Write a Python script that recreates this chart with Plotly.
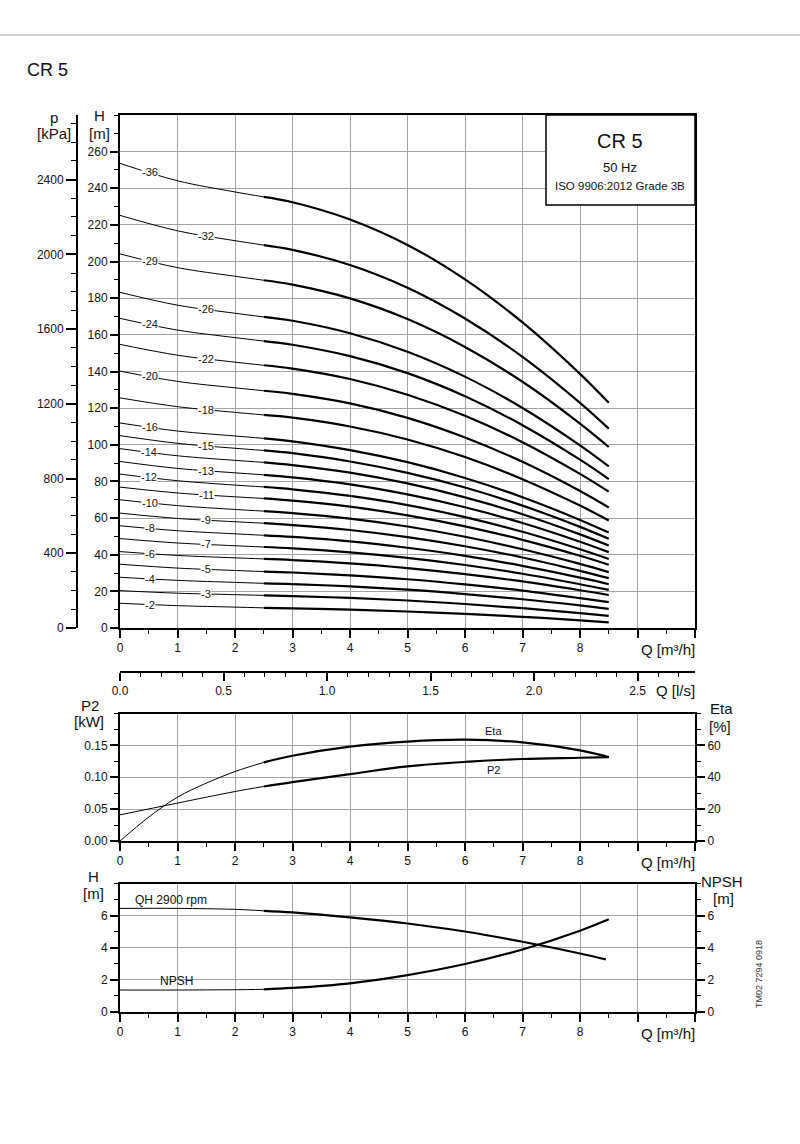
import plotly.graph_objects as go
import numpy as np

# ---------------- data ----------------
q_pts = [0, 1, 2, 2.5, 3, 4, 5, 6, 7, 8, 8.5]   # m3/h

h36 = [253.6, 244.1, 238.0, 235.3, 232.4, 223.0, 209.1, 190.3, 166.8, 138.7, 122.9]
h32 = [225.2, 216.8, 211.4, 209.0, 206.4, 198.1, 185.7, 168.9, 148.0, 122.9, 108.8]
h29 = [204.2, 196.7, 192.0, 189.8, 187.4, 179.9, 168.6, 153.4, 134.4, 111.6, 98.8]
h26 = [183.2, 176.2, 171.8, 169.8, 167.7, 160.9, 150.8, 137.2, 120.1, 99.7, 88.2]
h24 = [169.0, 162.6, 158.5, 156.6, 154.6, 148.4, 139.1, 126.5, 110.7, 91.9, 81.3]
h22 = [154.8, 148.9, 145.1, 143.4, 141.6, 135.9, 127.3, 115.8, 101.4, 84.1, 74.4]
h20 = [140.2, 134.6, 131.1, 129.5, 127.8, 122.6, 114.7, 104.0, 90.7, 74.8, 65.8]
h18 = [125.6, 120.8, 117.7, 116.3, 114.8, 110.0, 102.9, 93.3, 81.2, 66.8, 58.7]
h16 = [111.9, 107.5, 104.8, 103.5, 101.9, 97.1, 90.5, 81.9, 71.4, 59.0, 52.1]
h15 = [105.0, 100.8, 98.1, 96.9, 95.4, 90.9, 84.7, 76.7, 66.8, 55.2, 48.7]
h14 = [97.9, 94.0, 91.5, 90.4, 88.9, 84.8, 78.9, 71.3, 62.1, 51.1, 45.0]
h13 = [90.9, 87.1, 84.7, 83.6, 82.2, 78.4, 72.9, 65.9, 57.3, 47.1, 41.4]
h12 = [84.0, 80.4, 78.0, 77.0, 75.7, 72.1, 67.1, 60.5, 52.5, 43.0, 37.7]
h11 = [76.9, 73.7, 71.6, 70.7, 69.5, 66.2, 61.5, 55.5, 48.1, 39.4, 34.5]
h10 = [70.0, 66.8, 64.7, 63.8, 62.7, 59.7, 55.4, 49.8, 43.0, 35.0, 30.5]
h9 = [62.7, 59.8, 58.0, 57.2, 56.2, 53.5, 49.6, 44.6, 38.5, 31.2, 27.2]
h8 = [55.8, 53.1, 51.4, 50.6, 49.7, 47.3, 43.8, 39.4, 33.9, 27.5, 23.9]
h7 = [48.8, 46.4, 44.9, 44.2, 43.5, 41.3, 38.3, 34.4, 29.6, 23.9, 20.8]
h6 = [41.7, 39.6, 38.3, 37.7, 37.1, 35.3, 32.7, 29.4, 25.4, 20.6, 18.0]
h5 = [34.8, 32.7, 31.4, 30.8, 30.3, 28.7, 26.6, 23.8, 20.4, 16.3, 14.1]
h4 = [27.7, 26.0, 24.9, 24.4, 24.0, 22.7, 20.9, 18.5, 15.7, 12.3, 10.4]
h3 = [20.4, 19.0, 18.2, 17.8, 17.4, 16.4, 15.0, 13.1, 10.8, 8.1, 6.6]
h2 = [13.5, 12.2, 11.4, 11.0, 10.7, 10.0, 9.0, 7.7, 6.1, 4.2, 3.1]

stage_labels = ["-36", "-32", "-29", "-26", "-24", "-22", "-20", "-18", "-16", "-15", "-14", "-13",
                "-12", "-11", "-10", "-9", "-8", "-7", "-6", "-5", "-4", "-3", "-2"]
stage_curves = [h36, h32, h29, h26, h24, h22, h20, h18, h16, h15, h14, h13,
                h12, h11, h10, h9, h8, h7, h6, h5, h4, h3, h2]
label_q = [0.52, 1.5, 0.52, 1.5, 0.52, 1.5, 0.52, 1.5, 0.52, 1.5, 0.5, 1.5,
           0.5, 1.5, 0.52, 1.5, 0.52, 1.5, 0.52, 1.5, 0.52, 1.5, 0.52]

q_p2 = [0, 1, 2, 2.5, 3, 4, 5, 6, 7, 8, 8.5]
p2_kw = [0.041, 0.0595, 0.0776, 0.0855, 0.0924, 0.105, 0.117, 0.124, 0.1286, 0.1306, 0.1317]
q_eta = [0, 0.5, 1, 1.5, 2, 2.5, 3, 4, 5, 6, 7, 8, 8.5]
eta_pct = [0, 15.0, 27.5, 36.3, 43.6, 49.3, 53.5, 59.2, 62.4, 63.6, 61.9, 56.9, 52.7]

q_qh = [0, 1, 2, 2.5, 3, 4, 5, 6, 7, 8, 8.45]
h_qh = [6.46, 6.46, 6.40, 6.31, 6.21, 5.90, 5.52, 5.02, 4.38, 3.65, 3.28]
q_npsh = [0, 1, 2, 2.5, 3, 4, 5, 6, 7, 8, 8.5]
npsh_m = [1.37, 1.37, 1.39, 1.41, 1.50, 1.79, 2.30, 2.99, 3.90, 5.07, 5.78]

q_ticks = list(range(0, 11))
q_ticktext = [str(v) if v <= 8 else "" for v in q_ticks]
h_ticks = list(range(0, 261, 20))
p_ticks = list(range(0, 2401, 400))
ls_ticks = [0, 0.5, 1.0, 1.5, 2.0, 2.5]
ls_ticktext = ["0.0", "0.5", "1.0", "1.5", "2.0", "2.5"]
p2_ticks = [0, 0.05, 0.10, 0.15]
p2_ticktext = ["0.00", "0.05", "0.10", "0.15"]
eta_ticks = [0, 20, 40, 60]
npsh_ticks = [0, 2, 4, 6]

# ---------------- layout helpers ----------------
W, H = 800, 1144
def px(x): return x / W
def py(y): return 1 - y / H

FONT = "Liberation Sans, Arial, Helvetica, sans-serif"
GRID = "#a3a3a3"
THIN, THICK = 1.0, 2.2

fig = go.Figure()

def split_curve(q, v, xa, ya, name):
    qa, va = np.array(q, float), np.array(v, float)
    thin = qa <= 2.5
    thick = qa >= 2.5
    fig.add_trace(go.Scatter(x=qa[thin], y=va[thin], mode="lines", xaxis=xa, yaxis=ya,
                             line=dict(color="black", width=THIN, shape="spline", smoothing=1.0),
                             hoverinfo="skip", showlegend=False, name=name))
    fig.add_trace(go.Scatter(x=qa[thick], y=va[thick], mode="lines", xaxis=xa, yaxis=ya,
                             line=dict(color="black", width=THICK, shape="spline", smoothing=1.0),
                             hoverinfo="skip", showlegend=False, name=name))

for lab, curve in zip(stage_labels, stage_curves):
    split_curve(q_pts, curve, "x", "y", lab)

# helper traces so overlay axes render
fig.add_trace(go.Scatter(x=[0, 10 / 3.6], y=[None, None], xaxis="x2", yaxis="y",
                         showlegend=False, hoverinfo="skip"))
fig.add_trace(go.Scatter(x=[None, None], y=[0, 2700], xaxis="x", yaxis="y2",
                         showlegend=False, hoverinfo="skip"))

split_curve(q_p2, p2_kw, "x3", "y3", "P2")
split_curve(q_eta, eta_pct, "x3", "y4", "Eta")
split_curve(q_qh, h_qh, "x4", "y5", "QH")
split_curve(q_npsh, npsh_m, "x4", "y6", "NPSH")

tickfont = dict(family=FONT, size=12, color="#111")

def xax(anchor, **kw):
    d = dict(domain=[px(120), px(695)], range=[0, 10], anchor=anchor,
             showline=True, linecolor="black", linewidth=2, mirror=True,
             ticks="outside", ticklen=8, tickwidth=1.5, tickcolor="black",
             tickvals=q_ticks, ticktext=q_ticktext, tickfont=tickfont,
             showgrid=True, gridcolor=GRID, gridwidth=1, zeroline=False,
             minor=dict(dtick=0.5, tick0=0, ticklen=4, ticks="outside", tickcolor="black",
                        tickwidth=1, showgrid=False),
             fixedrange=True)
    d.update(kw)
    return d

def yax(anchor, domain, rng, tickvals, ticktext=None, minor_dtick=None, **kw):
    d = dict(range=rng, anchor=anchor,
             showline=True, linecolor="black", linewidth=2,
             ticks="outside", ticklen=8, tickwidth=1.5, tickcolor="black",
             tickvals=tickvals, tickfont=tickfont,
             showgrid=True, gridcolor=GRID, gridwidth=1, zeroline=False, fixedrange=True)
    if domain is not None:
        d["domain"] = domain
    if ticktext is not None:
        d["ticktext"] = ticktext
    if minor_dtick is not None:
        d["minor"] = dict(dtick=minor_dtick, tick0=0, ticklen=4, ticks="outside",
                          tickcolor="black", tickwidth=1, showgrid=False)
    d.update(kw)
    return d

main_dom = [py(628), py(115)]
p2_dom = [py(841), py(713.5)]
np_dom = [py(1012), py(883.7)]

fig.update_layout(
    width=W, height=H,
    margin=dict(l=0, r=0, t=0, b=0, pad=0, autoexpand=False),
    paper_bgcolor="white", plot_bgcolor="rgba(0,0,0,0)",
    font=dict(family=FONT, color="#111"),
    showlegend=False,
    xaxis=xax("y"),
    yaxis=yax("x", main_dom, [0, 280], h_ticks, minor_dtick=10, mirror=True),
    yaxis2=dict(overlaying="y", anchor="free", position=px(77), side="left",
                range=[0, 280 / 0.101972], tickvals=p_ticks, tickfont=tickfont,
                showline=True, linecolor="black", linewidth=2,
                ticks="outside", ticklen=10, tickwidth=1.5, tickcolor="black",
                minor=dict(dtick=100, tick0=0, ticklen=5, ticks="outside", tickcolor="black", tickwidth=1),
                showgrid=False, zeroline=False, fixedrange=True),
    xaxis2=dict(overlaying="x", anchor="free", position=py(672), side="bottom",
                range=[0, 10 / 3.6], tickvals=ls_ticks, ticktext=ls_ticktext, tickfont=tickfont,
                showline=True, linecolor="black", linewidth=2,
                ticks="outside", ticklen=8, tickwidth=1.5, tickcolor="black",
                minor=dict(dtick=0.1, tick0=0, ticklen=4, ticks="outside", tickcolor="black", tickwidth=1),
                showgrid=False, zeroline=False, fixedrange=True),
    xaxis3=xax("y3"),
    yaxis3=yax("x3", p2_dom, [0, 0.2], p2_ticks, p2_ticktext, minor_dtick=0.025),
    yaxis4=yax("x3", None, [0, 80], eta_ticks, minor_dtick=10,
               overlaying="y3", side="right", showgrid=False),
    xaxis4=xax("y5"),
    yaxis5=yax("x4", np_dom, [0, 8], npsh_ticks, minor_dtick=1),
    yaxis6=yax("x4", None, [0, 8], npsh_ticks, minor_dtick=1,
               overlaying="y5", side="right", showgrid=False),
)

ann = []
def ptext(x, y, text, size=14, xanchor="center", yanchor="middle", **kw):
    ann.append(dict(x=px(x), y=py(y), xref="paper", yref="paper", text=text, showarrow=False,
                    xanchor=xanchor, yanchor=yanchor, font=dict(family=FONT, size=size, color="#111"), **kw))

# stage labels on curves
for lab, curve, ql in zip(stage_labels, stage_curves, label_q):
    ann.append(dict(x=ql, y=float(np.interp(ql, q_pts, curve)), xref="x", yref="y", text=lab,
                    showarrow=False, bgcolor="white", borderpad=0,
                    font=dict(family=FONT, size=11, color="#111")))

# axis titles
ptext(54, 118, "p", 15)
ptext(54, 133, "[kPa]", 15)
ptext(99, 116, "H", 15)
ptext(99, 133, "[m]", 15)
ptext(697, 649, "Q [m³/h]", 15, xanchor="right")
ptext(697, 690, "Q [l/s]", 15, xanchor="right")
ptext(90, 705, "P2", 15)
ptext(89, 721, "[kW]", 15)
ptext(721, 708, "Eta", 15)
ptext(720, 726, "[%]", 15)
ptext(697, 862, "Q [m³/h]", 15, xanchor="right")
ptext(93, 876, "H", 15)
ptext(93, 893, "[m]", 15)
ptext(722, 881, "NPSH", 15)
ptext(723, 898, "[m]", 15)
ptext(697, 1033, "Q [m³/h]", 15, xanchor="right")

# curve labels in lower panels
ann.append(dict(x=6.5, y=68.8, xref="x3", yref="y4", text="Eta", showarrow=False,
                font=dict(family=FONT, size=11, color="#111")))
ann.append(dict(x=6.5, y=0.1107, xref="x3", yref="y3", text="P2", showarrow=False,
                font=dict(family=FONT, size=11, color="#111")))
ptext(133, 900, "QH 2900 rpm", 12, xanchor="left")
ptext(176, 981, "NPSH", 12)

# header
ptext(25, 70, "CR 5", 18, xanchor="left")
# info box text
ptext(620, 141, "CR 5", 20)
ptext(620, 167, "50 Hz", 13)
ptext(620, 186, "ISO 9906:2012 Grade 3B", 11.5)
# side code
ann.append(dict(x=px(766), y=py(1010), xref="paper", yref="paper", text="TM02 7294 0918",
                showarrow=False, textangle=-90, font=dict(family=FONT, size=9, color="#333")))

fig.update_layout(annotations=ann)

fig.update_layout(shapes=[
    dict(type="line", xref="paper", yref="paper", x0=0, x1=1, y0=py(35), y1=py(35),
         line=dict(color="#d2d2d2", width=2)),
    dict(type="rect", xref="paper", yref="paper", x0=px(546), x1=px(695), y0=py(205), y1=py(115),
         line=dict(color="black", width=1.5), fillcolor="white", layer="above"),
])

fig.write_html("out.html", config={"displayModeBar": False},
               post_script="document.body.style.margin='0';document.body.style.overflow='hidden';")
